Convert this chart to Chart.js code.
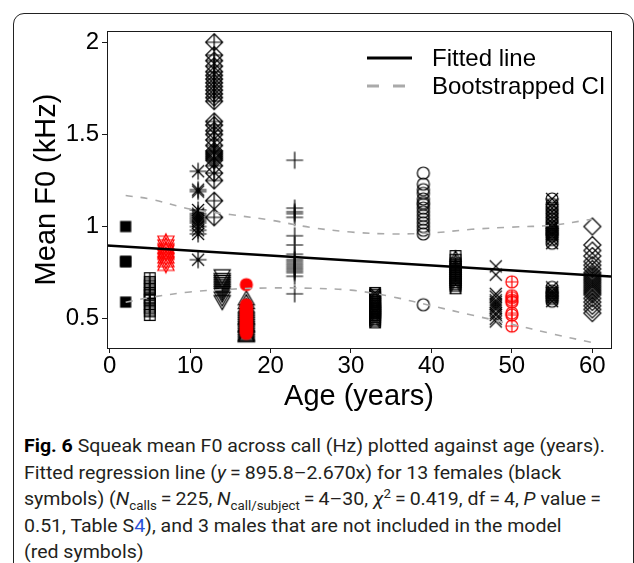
<!DOCTYPE html>
<html>
<head>
<meta charset="utf-8">
<script src="https://cdn.jsdelivr.net/npm/chart.js@4.4.1/dist/chart.umd.min.js"></script>
<style>
  html, body { margin: 0; padding: 0; background: #fff; }
  body { width: 634px; height: 563px; position: relative; overflow: hidden; }
  #frame {
    position: absolute; left: 13px; top: 13px; width: 621px; height: 620px;
    box-sizing: border-box; border: 1.3px solid #222; border-radius: 11px;
  }
  #chart { position: absolute; left: 0; top: 0; }
  #caption {
    position: absolute; left: 24px; top: 433px; white-space: nowrap;
    font-family: Roboto, 'Noto Sans', sans-serif; font-size: 19px; line-height: 26.5px;
    color: #231f20; transform-origin: 0 0;
  }
  #caption b { color: #000; }
  #caption sub, #caption sup { font-size: 0.68em; line-height: 0; }
  #caption .lnk { color: #2b52d8; }
</style>
</head>
<body>
<div id="frame"></div>
<canvas id="chart" width="634" height="420"></canvas>
<div id="caption"><span id="l1"><b>Fig. 6</b> Squeak mean F0 across call (Hz) plotted against age (years).</span><br>Fitted regression line (<i>y</i>&thinsp;=&thinsp;895.8–2.670x) for 13 females (black<br>symbols) (<i>N</i><sub>calls</sub>&thinsp;=&thinsp;225, <i>N</i><sub>call/subject</sub>&thinsp;=&thinsp;4–30, <i>χ</i><sup>2</sup>&thinsp;=&thinsp;0.419, df&thinsp;=&thinsp;4, <i>P</i> value&thinsp;=<br>0.51, Table S<span class="lnk">4</span>), and 3 males that are not included in the model<br>(red symbols)</div>
<script>
// ─── Data ─────────────────────────────────────────────

// Mean F0 (kHz) per call, one array per subject (age in years)
const f0F2  = [1.00, 0.81, 0.81, 0.59];
const f0F5  = [0.72, 0.70, 0.68, 0.66, 0.64, 0.63, 0.61, 0.60, 0.58, 0.56, 0.54, 0.52];
const f0F11 = [1.30, 1.20, 1.19, 1.09, 1.07, 1.06, 1.05, 1.04, 1.03, 1.02, 1.00, 0.98, 0.96, 0.82];
const f0F13 = [2.00, 1.93, 1.90, 1.87, 1.84, 1.82, 1.80, 1.78, 1.76, 1.74, 1.72, 1.70, 1.68, 1.57, 1.55,
               1.52, 1.50, 1.47, 1.44, 1.41, 1.40, 1.39, 1.38, 1.37, 1.36, 1.33, 1.29, 1.25, 1.14, 1.05];
const f0F14 = [0.74, 0.72, 0.71, 0.70, 0.69, 0.68, 0.67, 0.66, 0.65, 0.64, 0.62, 0.60];
const f0F17 = [0.60, 0.58, 0.56, 0.55, 0.54, 0.53, 0.52, 0.51, 0.50, 0.495, 0.49, 0.48, 0.47, 0.46,
               0.455, 0.45, 0.44, 0.43, 0.42, 0.41, 0.405, 0.40];
const f0F23 = [1.36, 1.10, 1.08, 1.07, 1.05, 0.95, 0.90, 0.85, 0.82, 0.81, 0.80, 0.79, 0.78, 0.77, 0.76, 0.75, 0.73, 0.635];
const f0F33 = [0.64, 0.63, 0.62, 0.61, 0.60, 0.59, 0.58, 0.57, 0.56, 0.555, 0.55, 0.545, 0.54, 0.535, 0.53, 0.52, 0.51, 0.50, 0.49, 0.48];
const f0F39 = [1.29, 1.23, 1.20, 1.18, 1.15, 1.13, 1.12, 1.10, 1.08, 1.06, 1.04, 1.02, 1.00, 0.98, 0.96, 0.576];
const f0F43 = [0.84, 0.82, 0.80, 0.79, 0.78, 0.77, 0.76, 0.75, 0.74, 0.73, 0.72, 0.71, 0.70, 0.69, 0.68, 0.665];
const f0F48 = [0.784, 0.739, 0.635, 0.62, 0.60, 0.59, 0.58, 0.57, 0.56, 0.55, 0.53, 0.52, 0.50, 0.485];
const f0F55 = [1.15, 1.12, 1.10, 1.08, 1.06, 1.04, 1.02, 1.00, 0.99, 0.98, 0.97, 0.96, 0.95, 0.93, 0.91,
               0.67, 0.65, 0.64, 0.63, 0.62, 0.61, 0.595];
const f0F60 = [1.00, 0.90, 0.87, 0.84, 0.81, 0.79, 0.77, 0.75, 0.74, 0.73, 0.72, 0.71, 0.70, 0.69, 0.68,
               0.67, 0.66, 0.65, 0.64, 0.63, 0.61, 0.59, 0.57, 0.55, 0.53];
// males (not in the model)
const f0M7  = [0.91, 0.89, 0.87, 0.86, 0.84, 0.82, 0.80];
const f0M17 = [0.685, 0.575, 0.56, 0.55, 0.54, 0.53, 0.52, 0.51, 0.50, 0.49, 0.48, 0.47, 0.46, 0.45, 0.44, 0.43, 0.42];
const f0M50 = [0.70, 0.625, 0.615, 0.60, 0.59, 0.53, 0.52, 0.46];

// fitted line (y = 895.8 - 2.670x Hz), read at the plot edges
const fitAges = [-0.32, 62.32];
const fitF0   = [0.897, 0.729];

// bootstrapped CI
const ciAges  = [2, 5, 10, 15, 20, 25, 30, 35, 40, 45, 50, 55, 60];
const ciUpper = [1.168, 1.15, 1.095, 1.065, 1.035, 0.995, 0.97, 0.96, 0.965, 0.985, 0.997, 1.007, 1.04];
const ciLower = [0.589, 0.615, 0.645, 0.66, 0.667, 0.665, 0.655, 0.62, 0.57, 0.52, 0.47, 0.418, 0.37];

const xTicks = [0, 10, 20, 30, 40, 50, 60];
const yTicks = [0.5, 1, 1.5, 2];

// ─── Marker glyphs (R pch look-alikes) ────────────────

const RAD = 6;
const SQ  = RAD * 0.886;
const TRI = { r: RAD * 1.555, yc: RAD * 0.7775, xc: RAD * 1.347 };

function glyph(color, draw) {
    const c = document.createElement('canvas');
    c.width = c.height = 26;
    const g = c.getContext('2d');
    g.translate(13, 13);
    g.strokeStyle = color;
    g.fillStyle = color;
    g.lineWidth = 1.2;
    g.beginPath();
    draw(g);
    g.stroke();
    return c;
}
const seg   = (g, a, b, c, d) => { g.moveTo(a, b); g.lineTo(c, d); };
const box   = (g, h) => g.rect(-h, -h, 2 * h, 2 * h);
const plus  = (g, h) => { seg(g, -h, 0, h, 0); seg(g, 0, -h, 0, h); };
const cross = (g, h) => { seg(g, -h, -h, h, h); seg(g, -h, h, h, -h); };
const ring  = (g, r) => { g.moveTo(r, 0); g.arc(0, 0, r, 0, Math.PI * 2); };
const diam  = (g, h) => { g.moveTo(0, -h); g.lineTo(h, 0); g.lineTo(0, h); g.lineTo(-h, 0); g.closePath(); };
const tri   = (g, top, base, w) => { g.moveTo(0, top); g.lineTo(w, base); g.lineTo(-w, base); g.closePath(); };

const SYMBOLS = {
    sqFill:  c => { const k = glyph(c, () => {}); k.getContext('2d').fillRect(-5.6, -5.6, 11.2, 11.2); return k; },
    sqPlus:  c => glyph(c, g => { box(g, SQ); plus(g, SQ); }),
    sqCross: c => glyph(c, g => { box(g, SQ); cross(g, SQ); }),
    sqTri:   c => glyph(c, g => { box(g, SQ); tri(g, -SQ, SQ, SQ); }),
    star6:   c => glyph(c, g => { tri(g, -TRI.r, 7, TRI.xc); tri(g, TRI.r, -7, TRI.xc); }),
    aster:   c => glyph(c, g => { cross(g, RAD); plus(g, RAD * Math.SQRT2); }),
    diaPlus: c => glyph(c, g => { diam(g, RAD * Math.SQRT2); plus(g, RAD * Math.SQRT2); }),
    diamond: c => glyph(c, g => diam(g, RAD * Math.SQRT2)),
    triUp:   c => glyph(c, g => tri(g, -TRI.r, TRI.yc, TRI.xc)),
    triDown: c => glyph(c, g => tri(g, TRI.r, -TRI.yc, TRI.xc)),
    plus:    c => glyph(c, g => plus(g, RAD * Math.SQRT2)),
    cross:   c => glyph(c, g => cross(g, RAD)),
    circle:  c => glyph(c, g => ring(g, RAD)),
    circFill:c => { const k = glyph(c, g => ring(g, RAD)); const g = k.getContext('2d'); g.beginPath(); g.arc(0, 0, RAD, 0, Math.PI * 2); g.fill(); return k; },
    circPlus:c => glyph(c, g => { ring(g, RAD); plus(g, RAD); }),
    circX:   c => glyph(c, g => { ring(g, RAD); cross(g, RAD); }),
};

// ─── Subjects ─────────────────────────────────────────

const subjects = [
    { age: 2,  f0: f0F2,  sym: 'sqFill',  red: false },
    { age: 5,  f0: f0F5,  sym: 'sqPlus',  red: false },
    { age: 11, f0: f0F11, sym: 'aster',   red: false },
    { age: 13, f0: f0F13, sym: 'diaPlus', red: false },
    { age: 14, f0: f0F14, sym: 'triDown', red: false },
    { age: 17, f0: f0F17, sym: 'triUp',   red: false },
    { age: 23, f0: f0F23, sym: 'plus',    red: false },
    { age: 33, f0: f0F33, sym: 'sqCross', red: false },
    { age: 39, f0: f0F39, sym: 'circle',  red: false },
    { age: 43, f0: f0F43, sym: 'sqTri',   red: false },
    { age: 48, f0: f0F48, sym: 'cross',   red: false },
    { age: 55, f0: f0F55, sym: 'circX',   red: false },
    { age: 60, f0: f0F60, sym: 'diamond', red: false },
    { age: 7,  f0: f0M7,  sym: 'star6',   red: true },
    { age: 17, f0: f0M17, sym: 'circFill',red: true },
    { age: 50, f0: f0M50, sym: 'circPlus',red: true },
];

const pointSets = subjects.map(s => ({
    data: s.f0.map(v => ({ x: s.age, y: v })),
    pointStyle: SYMBOLS[s.sym](s.red ? '#ff0000' : '#000000'),
    pointRadius: 6,
    showLine: false,
    order: s.red ? 2 : 3,
}));

const lineSet = (xs, ys, color, width, dash) => ({
    data: xs.map((x, i) => ({ x, y: ys[i] })),
    showLine: true,
    pointRadius: 0,
    borderColor: color,
    borderWidth: width,
    borderDash: dash,
    tension: 0.35,
    order: 1,
});

// ─── Plugins ──────────────────────────────────────────

const AXIS_FONT = "'Liberation Sans', Arial, sans-serif";

const boxAndLegend = {
    id: 'boxAndLegend',
    afterDraw(chart) {
        const { ctx, chartArea: a } = chart;
        ctx.save();
        ctx.strokeStyle = '#1a1a1a';
        ctx.lineWidth = 1;
        ctx.strokeRect(Math.round(a.left) + 0.5, Math.round(a.top) + 0.5,
                       Math.round(a.right - a.left), Math.round(a.bottom - a.top));

        ctx.lineWidth = 3;
        ctx.strokeStyle = '#000';
        ctx.beginPath(); ctx.moveTo(367, 58); ctx.lineTo(412, 58); ctx.stroke();
        ctx.strokeStyle = '#aaaaaa';
        ctx.setLineDash([12, 14]);
        ctx.beginPath(); ctx.moveTo(367, 86); ctx.lineTo(409, 86); ctx.stroke();
        ctx.setLineDash([]);

        ctx.fillStyle = '#000';
        ctx.font = `24px ${AXIS_FONT}`;
        ctx.textBaseline = 'middle';
        ctx.fillText('Fitted line', 432, 59);
        ctx.fillText('Bootstrapped CI', 432, 87);
        ctx.restore();
    },
};

// ─── Chart ────────────────────────────────────────────

new Chart(document.getElementById('chart').getContext('2d'), {
    type: 'scatter',
    data: {
        datasets: [
            lineSet(fitAges, fitF0, '#000000', 2.6, []),
            lineSet(ciAges, ciUpper, '#aaaaaa', 1.6, [7, 8]),
            lineSet(ciAges, ciLower, '#aaaaaa', 1.6, [7, 8]),
            ...pointSets,
        ],
    },
    options: {
        responsive: false,
        animation: false,
        events: [],
        layout: { padding: { top: 31, right: 23, left: 0, bottom: 0 } },
        plugins: { legend: { display: false }, tooltip: { enabled: false } },
        scales: {
            x: {
                type: 'linear',
                min: -0.32,
                max: 62.32,
                afterFit: s => { s.height = 72; },
                afterBuildTicks: s => { s.ticks = xTicks.map(v => ({ value: v })); },
                border: { display: false },
                grid: { drawOnChartArea: false, drawTicks: true, tickLength: 5, color: '#1a1a1a' },
                ticks: {
                    color: '#000',
                    padding: 1,
                    maxRotation: 0,
                    font: { family: AXIS_FONT, size: 24, lineHeight: 1 },
                    callback: v => String(v),
                },
                title: {
                    display: true,
                    text: 'Age (years)',
                    color: '#000',
                    font: { family: AXIS_FONT, size: 29 },
                    padding: { top: 0, bottom: 6 },
                },
            },
            y: {
                type: 'linear',
                min: 0.341,
                max: 2.061,
                afterFit: s => { s.width = 107; },
                afterBuildTicks: s => { s.ticks = yTicks.map(v => ({ value: v })); },
                border: { display: false },
                grid: { drawOnChartArea: false, drawTicks: true, tickLength: 5, color: '#1a1a1a' },
                ticks: {
                    color: '#000',
                    padding: 3,
                    font: { family: AXIS_FONT, size: 24 },
                    callback: v => String(v),
                },
                title: {
                    display: true,
                    text: 'Mean F0 (kHz)',
                    color: '#000',
                    font: { family: AXIS_FONT, size: 29 },
                    padding: { top: 30, bottom: 0 },
                },
            },
        },
    },
    plugins: [boxAndLegend],
});

// squeeze caption to the reference line width
const cap = document.getElementById('caption');
const w1 = document.getElementById('l1').getBoundingClientRect().width;
cap.style.transform = `scaleX(${581 / w1})`;
</script>
</body>
</html>
